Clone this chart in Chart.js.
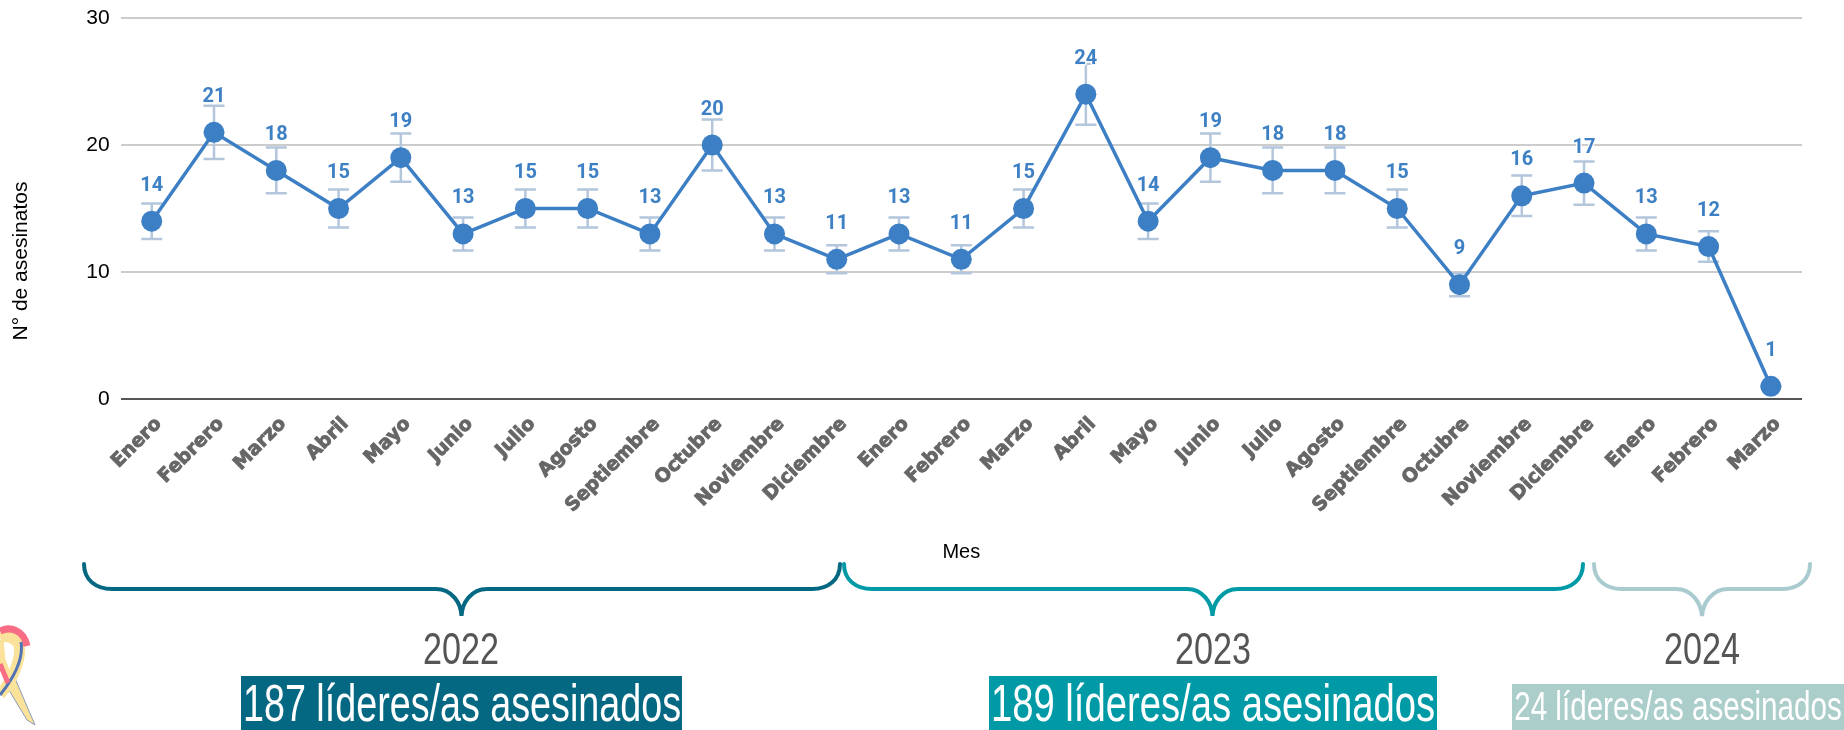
<!DOCTYPE html>
<html lang="es"><head><meta charset="utf-8">
<script src="https://cdn.jsdelivr.net/npm/chart.js@4/dist/chart.umd.min.js"></script>
<style>
html,body{margin:0;padding:0;background:#fff;width:1844px;height:730px;overflow:hidden}
#wrap{position:relative;width:1844px;height:730px}
canvas{position:absolute;left:0;top:0}
svg{position:absolute;left:0;top:0}
.t{position:absolute;white-space:nowrap;font-family:"Liberation Sans Narrow","Liberation Sans",sans-serif}
.t span{position:absolute;left:50%;top:0}
</style></head><body><div id="wrap">
<canvas id="c" width="1844" height="730"></canvas>
<svg width="1844" height="730" viewBox="0 0 1844 730" fill="none">
<path d="M84 564 C84 580 96 589 112 589 L436 589 C452 589 461 603 461.5 616 C462 603 471 589 487 589 L812 589 C828 589 840 580 840 564" stroke="#056882" stroke-width="4" stroke-linecap="round"/>
<path d="M844 564 C844 580 856 589 872 589 L1187 589 C1203 589 1212 603 1212.5 616 C1213 603 1222 589 1238 589 L1555 589 C1571 589 1583 580 1583 564" stroke="#009aa6" stroke-width="4" stroke-linecap="round"/>
<path d="M1594 564 C1594 580 1606 589 1622 589 L1676 589 C1692 589 1701 603 1702 616 C1703 603 1712 589 1728 589 L1782 589 C1798 589 1810 580 1810 564" stroke="#a9cbcf" stroke-width="4" stroke-linecap="round"/>
<path d="M4 682 L14 676 L35 725 L27 720 Z" fill="#fbe29a" stroke="#8c9ab8" stroke-width="1"/>
<path d="M0 637 C4 636 14 636 19 645 C22 658 12 682 0 694" stroke="#fbe29a" stroke-width="11"/>
<path d="M0 640 L2 660 L8 676" stroke="#fbe29a" stroke-width="7"/>
<path d="M0 631 C10 626 24 630 27 646" stroke="#f76d84" stroke-width="7"/>
<path d="M21 642 C24 660 12 680 0 695" stroke="#5274b4" stroke-width="3"/>
<path d="M0 664 L8 683" stroke="#f76d84" stroke-width="5"/>
</svg>
<div class="t" data-w="76" style="left:361px;width:200px;top:624px;height:50px;font-size:45px;line-height:50px;color:#555"><span>2022</span></div>
<div class="t" data-w="76" style="left:1113px;width:200px;top:624px;height:50px;font-size:45px;line-height:50px;color:#555"><span>2023</span></div>
<div class="t" data-w="76" style="left:1602px;width:200px;top:624px;height:50px;font-size:45px;line-height:50px;color:#555"><span>2024</span></div>
<div class="t" data-w="438" style="left:241px;width:441px;top:676px;height:54px;font-size:52px;line-height:54px;color:#fff;background:#056882"><span>187 líderes/as asesinados</span></div>
<div class="t" data-w="444" style="left:989px;width:448px;top:676px;height:54px;font-size:52px;line-height:54px;color:#fff;background:#009aa6"><span>189 líderes/as asesinados</span></div>
<div class="t" data-w="328" style="left:1512px;width:332px;top:684px;height:46px;font-size:40px;line-height:45px;color:#fff;background:#abcecb"><span>24 líderes/as asesinados</span></div>
</div>
<script>
const months = ["Enero","Febrero","Marzo","Abril","Mayo","Junio","Julio","Agosto","Septiembre","Octubre","Noviembre","Diciembre","Enero","Febrero","Marzo","Abril","Mayo","Junio","Julio","Agosto","Septiembre","Octubre","Noviembre","Diciembre","Enero","Febrero","Marzo"];
const killed = [14,21,18,15,19,13,15,15,13,20,13,11,13,11,15,24,14,19,18,18,15,9,16,17,13,12,1];
const errorLow = [12.6,18.9,16.2,13.5,17.1,11.7,13.5,13.5,11.7,18,11.7,9.9,11.7,9.9,13.5,21.6,12.6,17.1,16.2,16.2,13.5,8.1,14.4,15.3,11.7,10.8,0.9];
const errorHigh = [15.4,23.1,19.8,16.5,20.9,14.3,16.5,16.5,14.3,22,14.3,12.1,14.3,12.1,16.5,26.4,15.4,20.9,19.8,19.8,16.5,9.9,17.6,18.7,14.3,13.2,1.1];
const yTicks = [0,10,20,30];
const yTitle = "N° de asesinatos";
const xTitle = "Mes";

const errorBars = {id:'errorBars',beforeDatasetsDraw(ch){
  const {ctx,scales:{x,y}}=ch;ctx.save();ctx.strokeStyle='#b3c6dc';ctx.lineWidth=2.5;
  killed.forEach((v,i)=>{const px=x.getPixelForValue(i),a=y.getPixelForValue(errorLow[i]),b=y.getPixelForValue(errorHigh[i]);
    ctx.beginPath();ctx.moveTo(px,a);ctx.lineTo(px,b);ctx.moveTo(px-10.5,a);ctx.lineTo(px+10.5,a);ctx.moveTo(px-10.5,b);ctx.lineTo(px+10.5,b);ctx.stroke();});
  ctx.restore();}};
const valueLabels = {id:'valueLabels',afterDatasetsDraw(ch){
  const {ctx,scales:{x,y}}=ch;ctx.save();ctx.font='bold 20px Roboto';ctx.textAlign='center';ctx.textBaseline='middle';ctx.lineJoin='round';
  killed.forEach((v,i)=>{const px=x.getPixelForValue(i),py=y.getPixelForValue(v)-35.5;
    ctx.strokeStyle='rgba(255,255,255,.85)';ctx.lineWidth=3;ctx.strokeText(v,px,py);ctx.fillStyle='#3d80c4';ctx.fillText(v,px,py);});
  ctx.restore();}};
const sideTitle = {id:'sideTitle',afterDraw(ch){
  const {ctx}=ch;ctx.save();ctx.translate(21,261);ctx.rotate(-Math.PI/2);ctx.font='21px "Liberation Sans"';ctx.fillStyle='#000';ctx.textAlign='center';ctx.textBaseline='middle';ctx.fillText(yTitle,0,0);ctx.restore();}};
const noPad = s => {s.paddingTop=0;s.paddingBottom=0;s.paddingLeft=0;s.paddingRight=0;};

new Chart(document.getElementById('c'),{
  type:'line',
  data:{labels:months,datasets:[{data:killed,borderColor:'#3d7fc4',backgroundColor:'#3d7fc4',borderWidth:3.5,pointRadius:10.5,pointHoverRadius:10.5,pointBackgroundColor:'#3d7fc4',pointBorderWidth:0,tension:0,clip:false}]},
  options:{responsive:false,animation:false,devicePixelRatio:1,
    layout:{padding:{left:0,right:42,top:18,bottom:166}},
    plugins:{legend:{display:false},tooltip:{enabled:false}},
    scales:{
      x:{offset:true,grid:{display:false},border:{display:false},
        afterFit(s){s.height=165;noPad(s);},
        ticks:{autoSkip:false,minRotation:45,maxRotation:45,padding:6,labelOffset:7,color:'#666',textStrokeColor:'#666',textStrokeWidth:0.9,font:{family:'"DejaVu Sans"',weight:'bold',size:19}},
        title:{display:true,text:xTitle,color:'#000',font:{family:'"Liberation Sans"',size:20},padding:0}},
      y:{min:0,max:30,
        afterBuildTicks(s){s.ticks=yTicks.map(v=>({value:v}));},
        afterFit(s){s.width=120.6;noPad(s);},
        border:{display:false},
        grid:{drawTicks:false,lineWidth:2,color:c=>c.tick.value===0?'#555':'#ccc'},
        ticks:{padding:11,color:'#000',font:{family:'"Liberation Sans"',size:21}}}
    }},
  plugins:[errorBars,valueLabels,sideTitle]
});
document.querySelectorAll('.t').forEach(d=>{const s=d.firstElementChild;s.style.transform='translateX(-50%) scaleX('+(+d.dataset.w/s.offsetWidth)+')';});
</script></body></html>
